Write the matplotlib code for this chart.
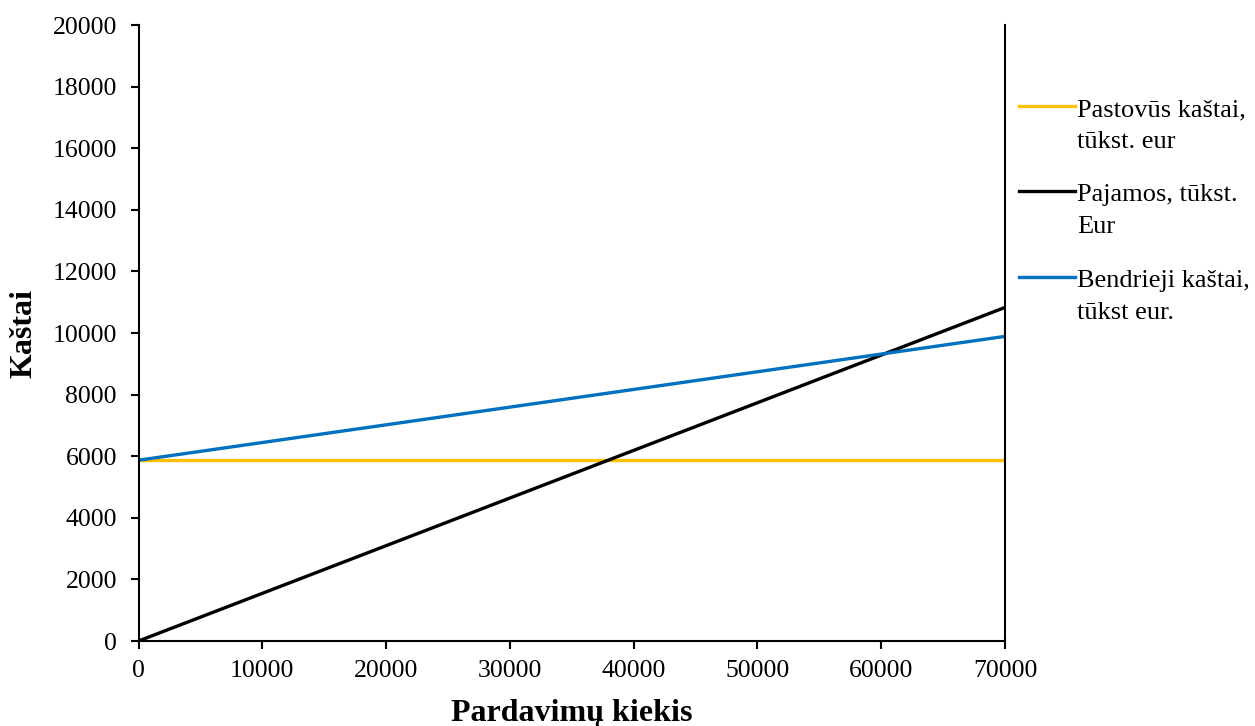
import matplotlib
matplotlib.use("Agg")
import matplotlib.pyplot as plt
from matplotlib.lines import Line2D

plt.rcParams['font.family'] = ['Liberation Serif', 'DejaVu Serif']

# Sales quantity (units) and cost/revenue values (thous. EUR)
quantity = [0, 70000]
fixed_costs = [5870, 5870]
revenue = [0, 10830]
total_costs = [5870, 9890]

series_labels = ["Pastovūs kaštai,\ntūkst. eur", "Pajamos, tūkst.\nEur", "Bendrieji kaštai,\ntūkst eur."]
series_colors = ["#FFC000", "#000000", "#0070C0"]

x_ticks = list(range(0, 70001, 10000))
y_ticks = list(range(0, 20001, 2000))

W, H = 1255, 726
fig = plt.figure(figsize=(W/100, H/100), dpi=100)
ax = fig.add_axes([138.5/W, 1 - 641/H, (1005 - 138.5)/W, (641 - 25)/H])

for vals, color in zip([fixed_costs, revenue, total_costs], series_colors):
    ax.plot(quantity, vals, color=color, lw=2.4, solid_capstyle='butt')

ax.set_xlim(0, 70000)
ax.set_ylim(0, 20000)
ax.set_xticks(x_ticks)
ax.set_yticks(y_ticks)
ax.tick_params(axis='both', labelsize=18.5, direction='out', length=5.5, width=1.5, color='black')
ax.tick_params(axis='x', pad=8)
ax.tick_params(axis='y', pad=10)
for side in ['left', 'bottom', 'right']:
    ax.spines[side].set_linewidth(1.5)
ax.spines['top'].set_visible(False)

# Axis titles
fig.text(24/W, 1 - 333/H, "Kaštai", rotation=90, fontsize=23, fontweight='bold',
         ha='center', va='center')
fig.text(572/W, 1 - 721/H, "Pardavimų kiekis", fontsize=23, fontweight='bold',
         ha='center', va='baseline')

# Legend drawn at the right of the plot area
legend_y = [106, 191, 277]
for label, color, ypx in zip(series_labels, series_colors, legend_y):
    yf = 1 - ypx/H
    fig.add_artist(Line2D([1019/W, 1075/W], [yf, yf], color=color, lw=2.4,
                          transform=fig.transFigure))
    first, second = label.split("\n")
    fig.text(1077/W, 1 - (ypx + 10)/H, first, fontsize=19, va='baseline', ha='left')
    fig.text(1077/W, 1 - (ypx + 42)/H, second, fontsize=19, va='baseline', ha='left')

fig.savefig("out.png", dpi=100)
